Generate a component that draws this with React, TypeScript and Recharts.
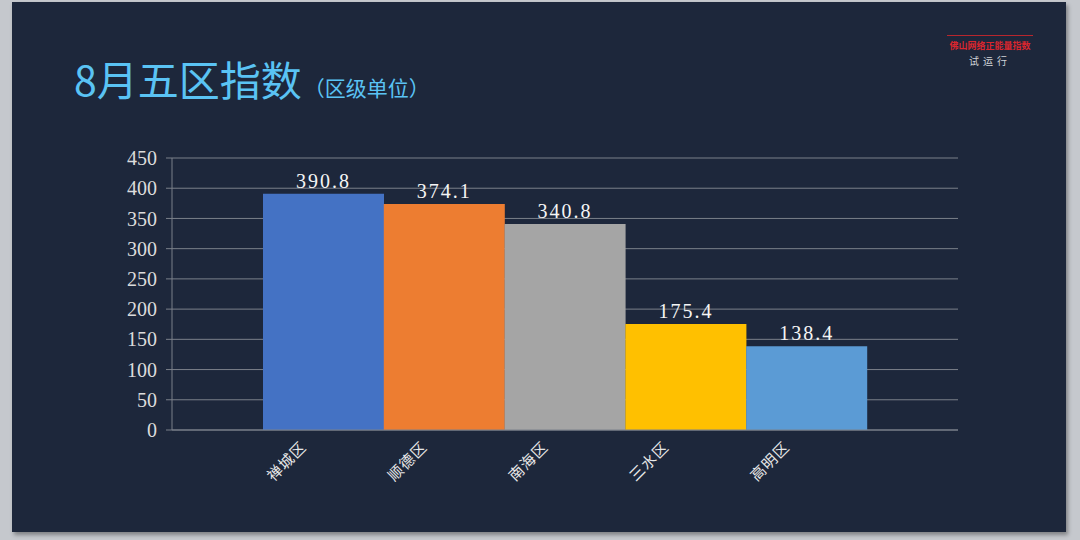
import React from "react";
import { BarChart, Bar, XAxis, YAxis, CartesianGrid, LabelList, Cell } from "recharts";

const districts = ["禅城区", "顺德区", "南海区", "三水区", "高明区"];
const indexValues = [390.8, 374.1, 340.8, 175.4, 138.4];
const barColors = ["#4472c4", "#ed7d31", "#a5a5a5", "#ffc000", "#5b9bd5"];
const yTicks = [0, 50, 100, 150, 200, 250, 300, 350, 400, 450];

const data = districts.map((name, i) => ({ name, value: indexValues[i] }));

const serif = "'Liberation Serif', 'DejaVu Serif', serif";
const cjk = "'Noto Sans CJK SC', 'Noto Sans', sans-serif";
const axisGray = "#7b808a";

function DistrictTick(props: any) {
  const { x, y, payload } = props;
  const ax = x - 16;
  const ay = y + 18;
  return (
    <text
      x={ax}
      y={ay}
      transform={`rotate(-45 ${ax} ${ay})`}
      textAnchor="end"
      fill="#e8e8e8"
      fontSize={15}
      fontFamily={cjk}
      letterSpacing={1}
    >
      {payload.value}
    </text>
  );
}

export default function App() {
  return (
    <div
      style={{
        position: "fixed",
        left: 0,
        top: 0,
        width: 1080,
        height: 540,
        background: "#c5c8cd",
        overflow: "hidden",
      }}
    >
      {/* slide */}
      <div
        style={{
          position: "absolute",
          left: 12,
          top: 2,
          width: 1054,
          height: 530,
          background: "#1d273b",
          boxShadow: "2px 3px 4px rgba(0,0,0,0.35)",
        }}
      />

      <div
        style={{
          position: "absolute",
          left: 74,
          top: 58,
          color: "#5ac3f4",
          fontFamily: cjk,
          whiteSpace: "nowrap",
          lineHeight: 1,
        }}
      >
        <span style={{ fontSize: 41 }}>8月五区指数</span>
        <span style={{ fontSize: 21, marginLeft: 2 }}>（区级单位）</span>
      </div>

      <div
        style={{
          position: "absolute",
          left: 947,
          top: 35,
          width: 86,
          borderTop: "1px solid #b8262d",
          textAlign: "center",
          fontFamily: cjk,
          lineHeight: 1,
        }}
      >
        <div style={{ color: "#d9262e", fontSize: 9, fontWeight: 700, marginTop: 5 }}>
          佛山网络正能量指数
        </div>
        <div style={{ color: "#d0d3d8", fontSize: 10, marginTop: 6, letterSpacing: 4 }}>
          试运行
        </div>
      </div>

      <div style={{ position: "absolute", left: 0, top: 0 }}>
        <BarChart
          width={1080}
          height={540}
          data={data}
          margin={{ top: 158, right: 122, bottom: 50, left: 112 }}
          barCategoryGap={0}
        >
          <CartesianGrid vertical={false} stroke={axisGray} strokeWidth={1} />
          <XAxis
            dataKey="name"
            height={60}
            interval={0}
            padding={{ left: 91, right: 91 }}
            axisLine={{ stroke: axisGray }}
            tickLine={false}
            tickSize={0}
            tickMargin={0}
            tick={<DistrictTick />}
          />
          <YAxis
            width={60}
            domain={[0, 450]}
            ticks={yTicks}
            interval={0}
            axisLine={{ stroke: axisGray }}
            tickLine={{ stroke: axisGray }}
            tickSize={6}
            tickMargin={9}
            tick={{ fill: "#dcdcdc", fontSize: 20, fontFamily: serif }}
          />
          <Bar dataKey="value" isAnimationActive={false}>
            {data.map((_, i) => (
              <Cell key={i} fill={barColors[i]} />
            ))}
            <LabelList
              dataKey="value"
              position="top"
              offset={6}
              fill="#f5f5f5"
              fontSize={20}
              fontFamily={serif}
              letterSpacing={2}
              formatter={(v: any) => Number(v).toFixed(1)}
            />
          </Bar>
        </BarChart>
      </div>
    </div>
  );
}
